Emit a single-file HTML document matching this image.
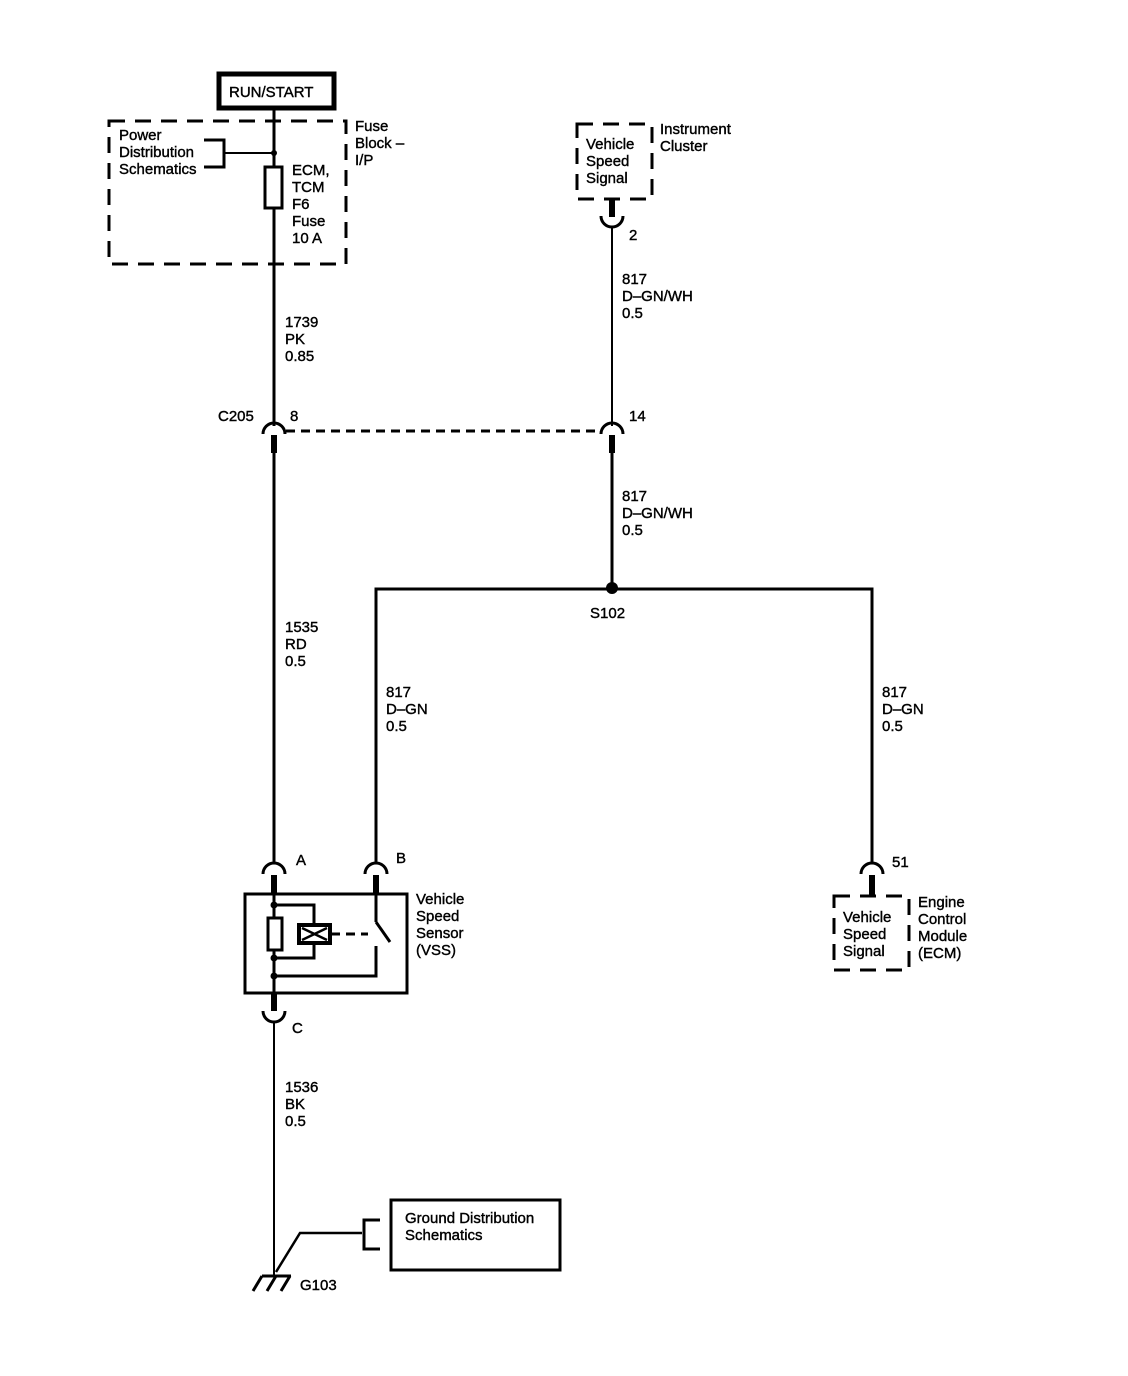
<!DOCTYPE html>
<html><head><style>
html,body{margin:0;padding:0;background:#fff;}
svg{display:block;}
text{font-family:"Liberation Sans",Arial,sans-serif;font-size:15px;fill:#000;stroke:#000;stroke-width:0.4;}
</style></head><body>
<svg width="1128" height="1376" viewBox="0 0 1128 1376" xmlns="http://www.w3.org/2000/svg">
<g fill="none" stroke="#000">
<rect x="219" y="74" width="115" height="34" stroke-width="5"/>
<rect x="109" y="121" width="237" height="143" stroke-width="3" stroke-dasharray="16,10"/>
<line x1="274" y1="108" x2="274" y2="426" stroke-width="3"/>
<rect x="265" y="167" width="17" height="41" fill="#fff" stroke-width="3"/>
<polyline points="204,140 224,140 224,167 204,167" stroke-width="3"/>
<line x1="224" y1="153" x2="274" y2="153" stroke-width="2"/>
<path d="M263,434 A11,11 0 0 1 285,434" stroke-width="3"/>
<line x1="274" y1="435" x2="274" y2="453" stroke-width="6"/>
<path d="M601,434 A11,11 0 0 1 623,434" stroke-width="3"/>
<line x1="612" y1="435" x2="612" y2="453" stroke-width="6"/>
<line x1="286" y1="431" x2="600" y2="431" stroke-width="3" stroke-dasharray="9,6"/>
<line x1="274" y1="453" x2="274" y2="862" stroke-width="3"/>
<rect x="577" y="124" width="75" height="75" stroke-width="3" stroke-dasharray="16,10"/>
<line x1="612" y1="199" x2="612" y2="217" stroke-width="6"/>
<path d="M601,216 A11,11 0 0 0 623,216" stroke-width="3"/>
<line x1="612" y1="226" x2="612" y2="426" stroke-width="2"/>
<line x1="612" y1="453" x2="612" y2="588" stroke-width="3"/>
<polyline points="376,862 376,589 872,589 872,862" stroke-width="3"/>
<path d="M263,874 A11,11 0 0 1 285,874" stroke-width="3"/>
<line x1="274" y1="875" x2="274" y2="895" stroke-width="6"/>
<path d="M365,874 A11,11 0 0 1 387,874" stroke-width="3"/>
<line x1="376" y1="875" x2="376" y2="895" stroke-width="6"/>
<path d="M861,874 A11,11 0 0 1 883,874" stroke-width="3"/>
<line x1="872" y1="875" x2="872" y2="895" stroke-width="6"/>
<rect x="834" y="896" width="75" height="74" stroke-width="3" stroke-dasharray="16,10"/>
<rect x="245" y="894" width="162" height="99" stroke-width="3"/>
<line x1="274" y1="894" x2="274" y2="993" stroke-width="3"/>
<rect x="268" y="918" width="14" height="32" fill="#fff" stroke-width="3"/>
<polyline points="274,905 314,905 314,958 274,958" stroke-width="3"/>
<rect x="299" y="925" width="31" height="18" fill="#fff" stroke-width="4"/>
<path d="M302,928 L327,940 M302,940 L327,928" stroke-width="2.5"/>
<line x1="331" y1="934" x2="368" y2="934" stroke-width="3" stroke-dasharray="9,6"/>
<line x1="376" y1="895" x2="376" y2="922" stroke-width="3"/>
<line x1="376" y1="922" x2="390" y2="942" stroke-width="3"/>
<polyline points="376,946 376,976 274,976" stroke-width="3"/>
<line x1="274" y1="993" x2="274" y2="1011" stroke-width="6"/>
<path d="M263,1011 A11,11 0 0 0 285,1011" stroke-width="3"/>
<line x1="274" y1="1021" x2="274" y2="1276" stroke-width="2"/>
<polyline points="276,1272 300,1233 362,1233" stroke-width="2.5"/>
<polyline points="380,1220 364,1220 364,1249 380,1249" stroke-width="3"/>
<rect x="391" y="1200" width="169" height="70" stroke-width="3"/>
<line x1="262" y1="1276" x2="291" y2="1276" stroke-width="3"/>
<path d="M262,1276 L253,1291 M276,1276 L267,1291 M290,1276 L281,1291" stroke-width="3"/>
</g>
<circle cx="274" cy="153" r="3"/>
<circle cx="612" cy="588" r="6"/>
<circle cx="274" cy="905" r="3.5"/>
<circle cx="274" cy="958" r="3.5"/>
<circle cx="274" cy="976" r="3.5"/>
<text x="229" y="97">RUN/START</text>
<g>
<text x="119" y="140">Power</text><text x="119" y="157">Distribution</text><text x="119" y="174">Schematics</text>
<text x="292" y="175">ECM,</text><text x="292" y="192">TCM</text><text x="292" y="209">F6</text><text x="292" y="226">Fuse</text><text x="292" y="243">10 A</text>
<text x="355" y="131">Fuse</text><text x="355" y="148">Block –</text><text x="355" y="165">I/P</text>
<text x="285" y="327">1739</text><text x="285" y="344">PK</text><text x="285" y="361">0.85</text>
<text x="218" y="421">C205</text><text x="290" y="421">8</text><text x="629" y="421">14</text>
<text x="586" y="149">Vehicle</text><text x="586" y="166">Speed</text><text x="586" y="183">Signal</text>
<text x="660" y="134">Instrument</text><text x="660" y="151">Cluster</text>
<text x="629" y="240">2</text>
<text x="622" y="284">817</text><text x="622" y="301">D–GN/WH</text><text x="622" y="318">0.5</text>
<text x="622" y="501">817</text><text x="622" y="518">D–GN/WH</text><text x="622" y="535">0.5</text>
<text x="590" y="618">S102</text>
<text x="285" y="632">1535</text><text x="285" y="649">RD</text><text x="285" y="666">0.5</text>
<text x="386" y="697">817</text><text x="386" y="714">D–GN</text><text x="386" y="731">0.5</text>
<text x="882" y="697">817</text><text x="882" y="714">D–GN</text><text x="882" y="731">0.5</text>
<text x="296" y="865">A</text><text x="396" y="863">B</text><text x="892" y="867">51</text>
<text x="416" y="904">Vehicle</text><text x="416" y="921">Speed</text><text x="416" y="938">Sensor</text><text x="416" y="955">(VSS)</text>
<text x="843" y="922">Vehicle</text><text x="843" y="939">Speed</text><text x="843" y="956">Signal</text>
<text x="918" y="907">Engine</text><text x="918" y="924">Control</text><text x="918" y="941">Module</text><text x="918" y="958">(ECM)</text>
<text x="292" y="1033">C</text>
<text x="285" y="1092">1536</text><text x="285" y="1109">BK</text><text x="285" y="1126">0.5</text>
<text x="405" y="1223">Ground Distribution</text><text x="405" y="1240">Schematics</text>
<text x="300" y="1290">G103</text>
</g>
</svg>
</body></html>
